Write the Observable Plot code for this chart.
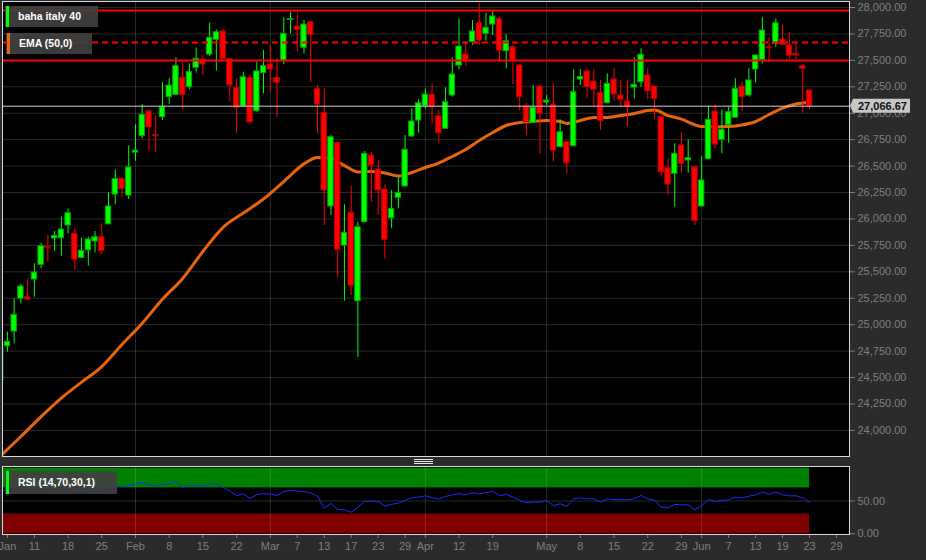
<!DOCTYPE html>
<html><head><meta charset="utf-8">
<script src="https://cdn.jsdelivr.net/npm/d3@7"></script>
<script src="https://cdn.jsdelivr.net/npm/@observablehq/plot@0.6"></script>
<style>
html,body{margin:0;padding:0;background:#2b2b2b;}
#wrap{position:relative;width:926px;height:560px;background:#2b2b2b;overflow:hidden;font-family:"Liberation Sans",Arial,sans-serif;}
#wrap svg{display:block;}
.legend{position:absolute;background:rgba(64,64,64,0.92);color:#fff;font-weight:bold;font-size:10.5px;box-sizing:border-box;padding-left:13px;white-space:nowrap;}
.legend .bar{position:absolute;left:1px;top:0;bottom:0;width:3px;}
.handle{position:absolute;left:414px;width:19px;height:1px;background:#e8e8e8;}
</style></head>
<body><div id="wrap"></div>
<script>
// ---------- data ----------
const holidays = ["2023-04-07", "2023-04-10"];
const firstIndex = 2; // index of first visible candle in the trading calendar (Jan 4, 2023)

const open = [24472,24796,24935,25247,25260,25427,25566,25739,25815,25818,25938,25859,25632,25704,25787,25827,25950,26231,26380,26222,
26628,26783,27016,26794,26962,27152,27174,27335,27246,27430,27508,27555,27694,27773,27515,27240,27064,27335,27019,27379,
27461,27335,27492,27882,27820,27619,27861,27231,27004,26118,26716,25749,26058,25222,25969,26600,26468,26278,26007,26200,
26307,26780,26931,27070,27174,26972,26853,27168,27451,27555,27672,27851,27751,27839,27893,27587,27624,27451,27064,26906,
27253,27101,27082,26679,26726,26688,27319,27395,27300,27193,27095,27319,27168,27111,27243,27293,27357,27253,26962,26480,
26427,26695,26553,26489,26118,26565,27016,26749,26890,26957,27253,27168,27414,27505,27624,27657,27697,27641,27562,27445,27215];
const high = [24929,24929,25245,25380,25434,25576,25770,25843,25881,26020,26096,25912,25818,25827,25881,25954,26247,26465,26389,26692,
26890,27082,27030,26976,27293,27326,27524,27492,27467,27619,27546,27851,27789,27789,27515,27326,27388,27357,27483,27593,
27641,27515,27903,27956,27946,27877,27870,27262,27231,26789,26726,26134,26310,25969,26638,26631,26553,26323,26269,26395,
26789,27042,27127,27231,27278,27026,27240,27524,27893,27681,27877,28041,27946,27965,27908,27745,27641,27460,27095,27262,
27262,27168,27278,26938,26735,27411,27411,27420,27411,27310,27373,27420,27310,27316,27524,27609,27420,27253,26962,26569,
26711,26815,26749,26489,26591,27064,27080,27032,27057,27326,27300,27420,27550,27903,27713,27893,27830,27766,27662,27450,27215];
const low = [24443,24740,24819,25197,25229,25260,25528,25591,25695,25648,25859,25519,25626,25553,25680,25661,25947,26134,26200,26184,
26546,26758,26641,26631,26931,27082,27168,27032,27222,27379,27357,27537,27397,27505,27104,26805,27057,26893,27010,27184,
27199,26962,27461,27751,27577,27562,27293,26805,25938,26033,25443,25222,25276,24692,25969,26158,26033,25623,25907,26096,
26307,26773,26811,27042,26900,26711,26853,27152,27411,27445,27641,27641,27681,27735,27483,27420,27272,27026,26789,26906,
26610,27073,26537,26679,26427,26688,27262,27136,27051,26837,27089,27111,27051,26868,27136,27246,27127,26947,26395,26222,
26111,26433,26433,25938,26118,26565,26663,26616,26716,26957,27019,27152,27284,27467,27483,27624,27641,27505,27473,27000,27032];
const close = [24787,24838,25093,25361,25238,25493,25742,25727,25840,25900,26054,25613,25699,25806,25827,25695,26118,26376,26285,26487,
26647,26985,26868,26785,27057,27262,27445,27174,27388,27515,27461,27713,27766,27515,27262,27051,27341,26915,27395,27445,
27414,27288,27751,27891,27789,27839,27742,27082,26269,26773,25708,25869,25370,25922,26616,26505,26269,25803,26096,26247,
26654,26922,27095,27177,27064,26811,27104,27366,27631,27505,27773,27688,27808,27915,27593,27681,27505,27152,26915,27051,
26995,27120,26647,26820,26527,27199,27343,27246,27222,26925,27278,27177,27127,27064,27267,27553,27208,27136,26442,26326,
26616,26522,26575,25979,26364,26938,26704,26843,27010,27231,27152,27310,27546,27782,27615,27851,27647,27546,27546,27420,27066.67];

// EMA(50) at selected trading-day indices
const emaIdx = [2,5,8,11,14,17,20,23,26,29,32,35,38,41,44,47,49,51,53,55,57,59,61,63,65,67,69,71,73,75,77,79,81,83,85,86,88,90,92,94,96,98,99,101,103,105,106,108,110,112,114,116,118,120,122];
const emaVal = [23760,23942,24131,24306,24456,24604,24812,25014,25240,25437,25692,25921,26056,26189,26354,26521,26581,26572,26505,26444,
26449,26435,26406,26439,26487,26529,26591,26657,26742,26818,26884,26912,26922,26931,26922,26903,26931,26960,26960,26978,
26997,27026,27030,26978,26945,26890,26874,26870,26874,26889,26922,26988,27049,27087,27101];

// RSI(14) for each visible candle
const rsi = [64.5,67.5,69,70.5,70,69.5,70.5,70,70,69.5,70.5,66,66,67,67.5,66,70.5,72.6,72,73.5,
75.2,78.7,74.7,72.6,75.6,75.6,79.7,71.0,73.6,73.2,72.6,76.2,76.2,71.0,65.2,57.9,61.0,53.8,59.9,61.0,
60.7,58.4,64.5,66.8,65.2,64.5,62.2,57.6,39.0,46.2,37.0,36.6,32.9,40.5,49.7,49.5,49.2,42.4,45.1,46.6,
51.1,54.6,56.1,57.9,55.3,53.0,56.9,59.1,61.4,59.5,62.5,61.0,63.0,64.5,58.4,59.9,56.1,50.8,47.3,48.5,
48.2,50.8,43.1,45.7,42.1,53.4,54.9,53.4,53.4,48.2,53.4,52.3,52.0,51.8,53.4,58.4,53.4,51.5,40.5,39.6,
44.7,44.2,44.2,36.6,43.1,52.3,49.2,51.2,51.5,55.8,54.9,57.3,59.5,63.4,60.4,63.4,59.5,57.9,57.9,54.9,48.2];

const resistanceLevels = [27972, 27500];
const dashedLevels = [27669];
const rsiUpper = 70, rsiLower = 30;

const yTicks = [24000,24250,24500,24750,25000,25250,25500,25750,26000,26250,26500,26750,27000,27250,27500,27750,28000];
const rsiTicks = [0, 50];
const tickDates = ["2023-01-05","2023-01-11","2023-01-18","2023-01-25","2023-02-01","2023-02-08","2023-02-15","2023-02-22",
"2023-03-01","2023-03-07","2023-03-13","2023-03-17","2023-03-23","2023-03-29","2023-04-03","2023-04-12","2023-04-19",
"2023-05-01","2023-05-08","2023-05-15","2023-05-22","2023-05-29","2023-06-01","2023-06-07","2023-06-13","2023-06-19","2023-06-23","2023-06-29"];
const tickLabels = ["Jan","11","18","25","Feb","8","15","22","Mar","7","13","17","23","29","Apr","12","19",
"May","8","15","22","29","Jun","7","13","19","23","29"];
const monthStarts = ["2023-02-01","2023-03-01","2023-04-03","2023-05-01","2023-06-01"];

// ---------- derived ----------
const iso = d => d.toISOString().slice(0, 10);
const calendar = d3.utcDays(new Date("2023-01-02"), new Date("2023-06-30"))
  .filter(d => d.getUTCDay() !== 0 && d.getUTCDay() !== 6 && !holidays.includes(iso(d)))
  .map(iso);
const idxOf = s => calendar.indexOf(s);

const candles = open.map((o, k) => ({i: firstIndex + k, date: calendar[firstIndex + k], o, h: high[k], l: low[k], c: close[k]}));
const emaData = emaIdx.map((i, k) => ({i, v: emaVal[k]}));
const rsiData = rsi.map((v, k) => ({i: firstIndex + k, v}));
const lastIdx = firstIndex + close.length - 1;
const lastClose = close[close.length - 1];
const tickIdx = tickDates.map(idxOf);
const labelOf = new Map(tickIdx.map((t, k) => [t, tickLabels[k]]));
const monthIdx = monthStarts.map(idxOf);

const FONT = "Liberation Sans, Arial, sans-serif";
const xDomain = [2.27, 127.93];
const UP = "#00ff00", UP_EDGE = "#00a400", DOWN = "#ff0000", DOWN_EDGE = "#b00000";
const GRID = {stroke: "#a0a0a0", strokeOpacity: 0.26};
const baseStyle = {background: "transparent", color: "#7f7f7f", fontFamily: FONT, fontSize: "11px", overflow: "visible"};
const fmt = d3.format(",.2f");

const main = Plot.plot({
  width: 926, height: 458,
  marginLeft: 2, marginRight: 77, marginTop: 1, marginBottom: 2,
  style: baseStyle,
  x: {type: "linear", domain: xDomain, axis: null, label: null},
  y: {domain: [23753, 28057], axis: null, label: null},
  color: {type: "identity"},
  marks: [
    Plot.frame({fill: "#000"}),
    Plot.gridY(yTicks, GRID),
    Plot.gridX(monthIdx, GRID),
    Plot.line(emaData, {x: "i", y: "v", stroke: "#e8640c", strokeWidth: 3, curve: "monotone-x", clip: true}),
    Plot.ruleX(candles, {x: "i", y1: "l", y2: "h", stroke: d => d.c > d.o ? UP : DOWN, strokeWidth: 1, clip: true}),
    Plot.rect(candles, {x1: d => d.i - 0.4, x2: d => d.i + 0.4, y1: "o", y2: "c",
      fill: d => d.c > d.o ? UP : DOWN, stroke: d => d.c > d.o ? UP_EDGE : DOWN_EDGE, strokeWidth: 1, clip: true}),
    Plot.ruleY(resistanceLevels, {stroke: "#ff0000", strokeWidth: 2}),
    Plot.ruleY(dashedLevels, {stroke: "#ff0000", strokeWidth: 2, strokeDasharray: "6,4"}),
    Plot.ruleY([lastClose], {stroke: "#cfcfcf", strokeWidth: 1}),
    Plot.axisY(yTicks, {anchor: "right", tickFormat: fmt, tickSize: 5, tickPadding: 3, label: null}),
    Plot.frame({stroke: "#d6d6e4"})
  ]
});

// current price tag
const yPx = main.scale("y").apply(lastClose);
const R = 849;
const tag = d3.select(main).append("g").attr("text-anchor", "start");
tag.append("path")
  .attr("d", `M${R + 1},${yPx} L${R + 4},${yPx - 7} H${R + 61} V${yPx + 7} H${R + 4} Z`)
  .attr("fill", "#c6c6c6");
tag.append("text").attr("x", R + 9).attr("y", yPx).attr("dy", "0.35em")
  .attr("text-anchor", "start")
  .attr("font-weight", "bold").attr("font-size", 11).attr("fill", "#111").text(fmt(lastClose));

const rsiPlot = Plot.plot({
  width: 926, height: 102,
  marginLeft: 2, marginRight: 77, marginTop: 8, marginBottom: 26,
  style: baseStyle,
  x: {type: "linear", domain: xDomain, axis: null, label: null},
  y: {domain: [-1.07, 102.6], axis: null, label: null},
  marks: [
    Plot.frame({fill: "#000"}),
    Plot.rect([0], {x1: () => xDomain[0], x2: () => lastIdx, y1: rsiUpper, y2: 100, fill: "#008000"}),
    Plot.rect([0], {x1: () => xDomain[0], x2: () => lastIdx, y1: 0, y2: rsiLower, fill: "#800000"}),
    Plot.gridY([50], GRID),
    Plot.gridX(monthIdx, GRID),
    Plot.line(rsiData, {x: "i", y: "v", stroke: "#1a2cff", strokeWidth: 1, clip: true}),
    Plot.axisY(rsiTicks, {anchor: "right", tickFormat: d3.format(".2f"), tickSize: 5, tickPadding: 3, label: null}),
    Plot.axisX(tickIdx, {tickFormat: d => labelOf.get(d), tickSize: 4, tickPadding: 4, label: null}),
    Plot.frame({stroke: "#d6d6e4"})
  ]
});

const wrap = document.getElementById("wrap");
wrap.appendChild(main);
wrap.appendChild(rsiPlot);

// legends
function legend(text, color, left, top, width, height) {
  const el = document.createElement("div");
  el.className = "legend";
  Object.assign(el.style, {left: left + "px", top: top + "px", width: width + "px", height: height + "px", lineHeight: height + "px"});
  const bar = document.createElement("div");
  bar.className = "bar";
  bar.style.background = color;
  el.appendChild(bar);
  el.appendChild(document.createTextNode(text));
  wrap.appendChild(el);
}
legend("baha italy 40", "#00ff00", 5, 6, 93, 21);
legend("EMA (50,0)", "#e8640c", 6, 33, 86, 21);
legend("RSI (14,70,30,1)", "#00ff00", 5, 471, 112, 23);

// panel splitter handle
[459, 461, 463].forEach(t => {
  const h = document.createElement("div");
  h.className = "handle";
  h.style.top = t + "px";
  wrap.appendChild(h);
});
</script></body></html>
